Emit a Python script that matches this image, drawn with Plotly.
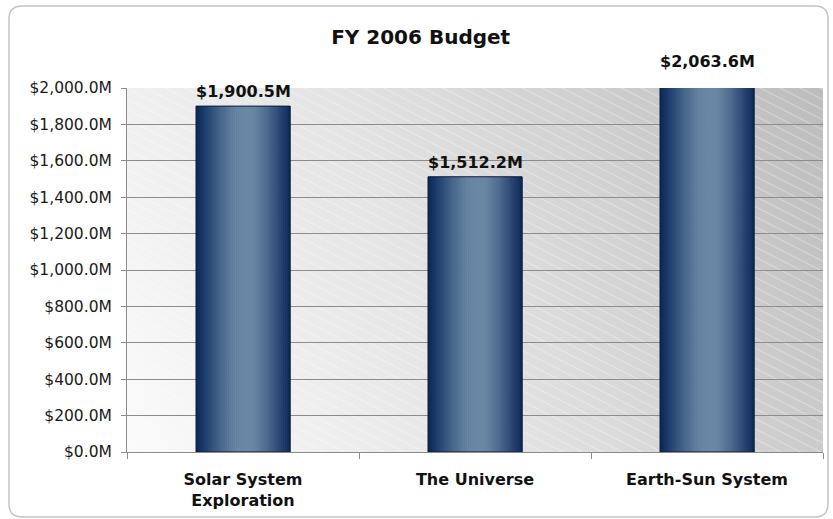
import base64

import plotly.graph_objects as go

# data
categories = ["Solar System<br>Exploration", "The Universe", "Earth-Sun System"]
budget = [1900.5, 1512.2, 2063.6]
labels = ["$1,900.5M", "$1,512.2M", "$2,063.6M"]
Y_MAX = 2000

# horizontal shading profile of each bar (left edge -> right edge)
shade_stops = [
    (0.00, (11, 40, 87)),
    (0.10, (31, 63, 110)),
    (0.25, (69, 100, 138)),
    (0.42, (98, 130, 160)),
    (0.52, (106, 136, 165)),
    (0.62, (102, 134, 162)),
    (0.76, (76, 107, 144)),
    (0.90, (36, 63, 110)),
    (1.00, (12, 42, 90)),
]

W, H = 833, 519
ML, MR, MT, MB = 127, 10, 88, 67
PW, PH = W - ML - MR, H - MT - MB
BAR_W = 0.405
N_SLICES = 48


def shade(t):
    for (t0, c0), (t1, c1) in zip(shade_stops, shade_stops[1:]):
        if t0 <= t <= t1:
            f = (t - t0) / (t1 - t0)
            r, g, b = (round(a + (b_ - a) * f) for a, b_ in zip(c0, c1))
            return f"rgb({r},{g},{b})"
    return "rgb(12,42,90)"


def rounded_rect(x0, y0, x1, y1, r):
    # pixel coords (top-left origin) -> paper coords path
    px = lambda x: (x - ML) / PW
    py = lambda y: (H - MB - y) / PH
    return (
        f"M {px(x0 + r)},{py(y0)} L {px(x1 - r)},{py(y0)} "
        f"Q {px(x1)},{py(y0)} {px(x1)},{py(y0 + r)} "
        f"L {px(x1)},{py(y1 - r)} Q {px(x1)},{py(y1)} {px(x1 - r)},{py(y1)} "
        f"L {px(x0 + r)},{py(y1)} Q {px(x0)},{py(y1)} {px(x0)},{py(y1 - r)} "
        f"L {px(x0)},{py(y0 + r)} Q {px(x0)},{py(y0)} {px(x0 + r)},{py(y0)} Z"
    )


bg_svg = f"""<svg xmlns='http://www.w3.org/2000/svg' width='{PW}' height='{PH}' viewBox='0 0 {PW} {PH}' preserveAspectRatio='none'>
<defs>
<linearGradient id='g' gradientUnits='userSpaceOnUse' x1='0' y1='{PH}' x2='{PW}' y2='0'>
<stop offset='0' stop-color='#fbfbfb'/><stop offset='0.45' stop-color='#e3e3e3'/><stop offset='1' stop-color='#bcbcbc'/>
</linearGradient>
<pattern id='h' patternUnits='userSpaceOnUse' width='40' height='9' patternTransform='rotate(27)'>
<line x1='0' y1='0.5' x2='40' y2='0.5' stroke='white' stroke-opacity='0.33' stroke-width='1'/>
</pattern>
</defs>
<rect width='{PW}' height='{PH}' fill='url(#g)'/>
<rect width='{PW}' height='{PH}' fill='url(#h)'/>
</svg>"""
bg_uri = "data:image/svg+xml;base64," + base64.b64encode(bg_svg.encode()).decode()

fig = go.Figure()

# shaded bars built from thin vertical slices
slice_w = BAR_W / N_SLICES
for i in range(N_SLICES):
    fig.add_trace(
        go.Bar(
            x=categories,
            y=budget,
            width=slice_w * 1.3,
            offset=-BAR_W / 2 + i * slice_w,
            marker=dict(color=shade((i + 0.5) / N_SLICES), line=dict(width=0)),
            showlegend=False,
            hoverinfo="skip",
        )
    )

# dark outline
fig.add_trace(
    go.Bar(
        x=categories,
        y=budget,
        width=BAR_W,
        offset=-BAR_W / 2,
        marker=dict(color="rgba(0,0,0,0)", line=dict(color="#0a1a38", width=1)),
        showlegend=False,
        hoverinfo="skip",
    )
)

# value labels (paper y so the clipped bar still gets its label)
for cat, val, lab in zip(categories, budget, labels):
    fig.add_annotation(
        x=cat,
        xref="x",
        y=val / Y_MAX,
        yref="paper",
        text=lab,
        showarrow=False,
        yanchor="bottom",
        yshift=3,
        font=dict(family="DejaVu Sans", size=16, color="#111111", weight="bold"),
    )

fig.update_layout(
    width=W,
    height=H,
    barmode="overlay",
    margin=dict(l=ML, r=MR, t=MT, b=MB),
    paper_bgcolor="white",
    plot_bgcolor="rgba(0,0,0,0)",
    font=dict(family="DejaVu Sans", color="#1a1a1a"),
    title=dict(
        text="FY 2006 Budget",
        x=0.505,
        xref="container",
        y=1 - 37 / H,
        yref="container",
        yanchor="middle",
        xanchor="center",
        font=dict(size=20, color="#111111", weight="bold"),
    ),
    images=[
        dict(
            source=bg_uri,
            xref="paper",
            yref="paper",
            x=0,
            y=1,
            sizex=1,
            sizey=1,
            xanchor="left",
            yanchor="top",
            sizing="stretch",
            layer="below",
        )
    ],
    shapes=[
        dict(
            type="path",
            xref="paper",
            yref="paper",
            path=rounded_rect(9, 6, 828, 517, 13),
            line=dict(color="#c4c4c4", width=1.5),
            fillcolor="rgba(0,0,0,0)",
            layer="below",
        )
    ],
    xaxis=dict(
        type="category",
        range=[-0.5, 2.5],
        tickson="boundaries",
        ticks="outside",
        ticklen=6,
        tickcolor="#8c8c8c",
        showline=True,
        linecolor="#8c8c8c",
        showgrid=False,
        tickfont=dict(size=16, color="#111111", weight="bold"),
        ticklabelstandoff=13,
    ),
    yaxis=dict(
        range=[0, Y_MAX],
        dtick=200,
        tickprefix="$",
        ticksuffix="M",
        tickformat=",.1f",
        ticks="outside",
        ticklen=5,
        tickcolor="#8c8c8c",
        showline=True,
        linecolor="#8c8c8c",
        gridcolor="#8c8c8c",
        gridwidth=1,
        zeroline=False,
        tickfont=dict(size=15.5, color="#1a1a1a"),
        ticklabelstandoff=6,
    ),
)

fig.write_html(
    "out.html",
    config={"displayModeBar": False},
    post_script="document.body.style.margin='0';",
)
